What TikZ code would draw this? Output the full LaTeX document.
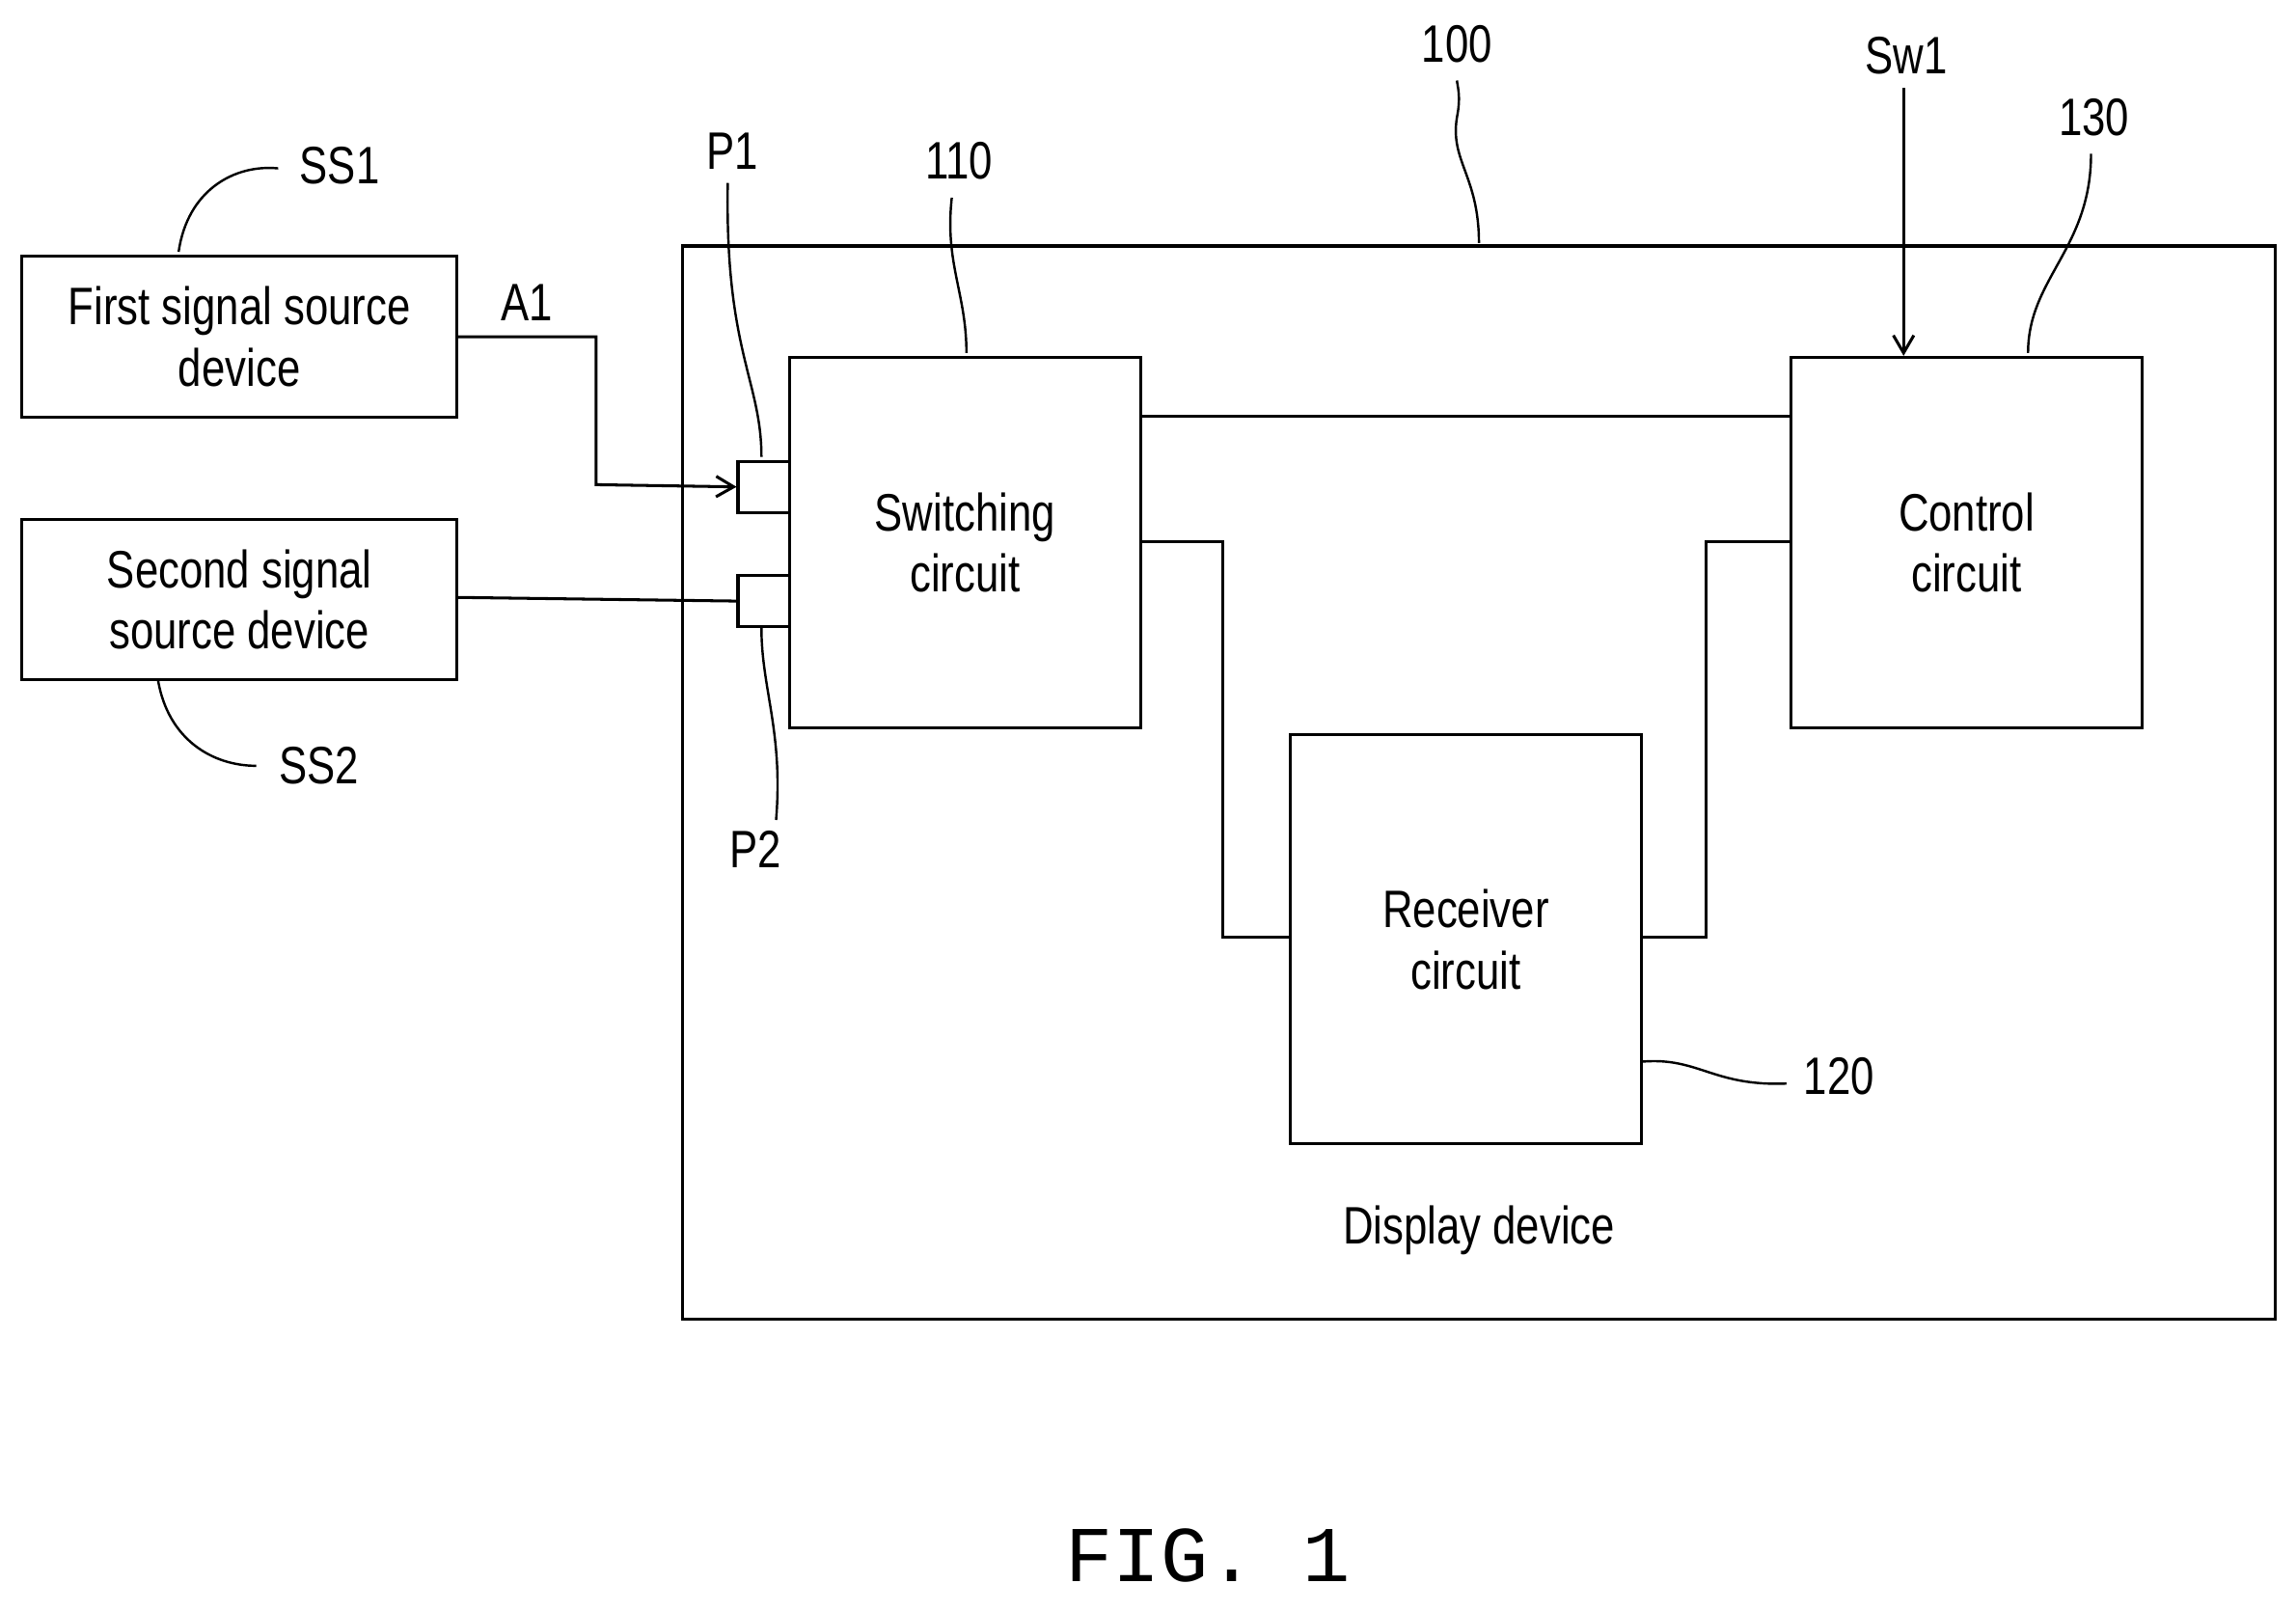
\documentclass[tikz,border=0pt]{standalone}
\usepackage{fontspec}
\usetikzlibrary{arrows.meta}
\setmainfont{Liberation Sans}[FakeStretch=0.8]
\newfontfamily\figfont{Liberation Mono}
\begin{document}
\begin{tikzpicture}[x=1pt,y=-1pt,line width=2pt,
  box/.style={draw,inner sep=0pt},
  lbl/.style={font=\fontsize{36}{42}\selectfont,align=center,inner sep=0pt},
  lead/.style={line width=1.6pt}]
\useasboundingbox (0,0) rectangle (1568,1100);
\node[box,minimum width=1088,minimum height=733,anchor=north west] (dev) at (465,167) {};
\node[box,minimum width=297,minimum height=110,anchor=north west,lbl] (ss1) at (14,174) {First signal source\\device};
\node[box,minimum width=297,minimum height=109,anchor=north west,lbl] (ss2) at (14,354) {Second signal\\source device};
\node[box,minimum width=240,minimum height=253,anchor=north west,lbl] (sw) at (538,243) {Switching\\circuit};
\node[box,minimum width=35,minimum height=35,anchor=north west] (p1) at (503,314) {};
\node[box,minimum width=35,minimum height=35,anchor=north west] (p2) at (503,392) {};
\node[box,minimum width=240,minimum height=253,anchor=north west,lbl] (ctl) at (1222,243) {Control\\circuit};
\node[box,minimum width=240,minimum height=279,anchor=north west,lbl] (rx) at (880,501) {Receiver\\circuit};
\node[lbl] (dd) at (1010,840) {Display device};
\node[inner sep=0pt,font=\figfont\fontsize{54}{60}\selectfont] (fig) at (825,1062) {FIG. 1};
% labels
\node[lbl] (a1) at (360,207) {A1};
\node[lbl] (lsw1) at (1302,38) {Sw1};
\node[lbl] (l130) at (1430,80) {130};
\node[lbl] (l100) at (995,30) {100};
\node[lbl] (l110) at (655,110) {110};
\node[lbl] (lp1) at (500,103) {P1};
\node[lbl] (lp2) at (516,580) {P2};
\node[lbl] (lss1) at (232,113) {SS1};
\node[lbl] (lss2) at (218,523) {SS2};
\node[lbl] (l120) at (1256,735) {120};
% connectors
\draw[-{Straight Barb[length=12pt,width=14pt]}] (ss1.east |- 0,230) -- (407,230) -- (407,331) -- (p1.west);
\draw (ss2.east |- 0,408) -- (p2.west);
\draw (sw.east |- 0,284) -- (ctl.west |- 0,284);
\draw (sw.east |- 0,370) -- (835,370) -- (835,640) -- (rx.west |- 0,640);
\draw (rx.east |- 0,640) -- (1165,640) -- (1165,370) -- (ctl.west |- 0,370);
\coordinate (swtop) at (1300,60);
\draw[-{Straight Barb[length=12pt,width=14pt]}] (swtop) -- (ctl.north -| swtop);
% leaders
\draw[lead] (1385,241) .. controls (1385,190) and (1428,170) .. (1428,105);
\draw[lead] (1010,166) .. controls (1010,120) and (990,110) .. (995,80) .. controls (998,65) and (995,58) .. (995,55);
\draw[lead] (660,241) .. controls (660,200) and (645,180) .. (650,135);
\draw[lead] (520,312) .. controls (520,260) and (495,240) .. (497,125);
\draw[lead] (520,429) .. controls (520,470) and (535,500) .. (530,560);
\draw[lead] (122,172) .. controls (128,130) and (160,112) .. (190,115);
\draw[lead] (108,465) .. controls (115,505) and (145,523) .. (175,523);
\draw[lead] (1122,725) .. controls (1160,722) and (1170,742) .. (1220,740);
\end{tikzpicture}
\end{document}
